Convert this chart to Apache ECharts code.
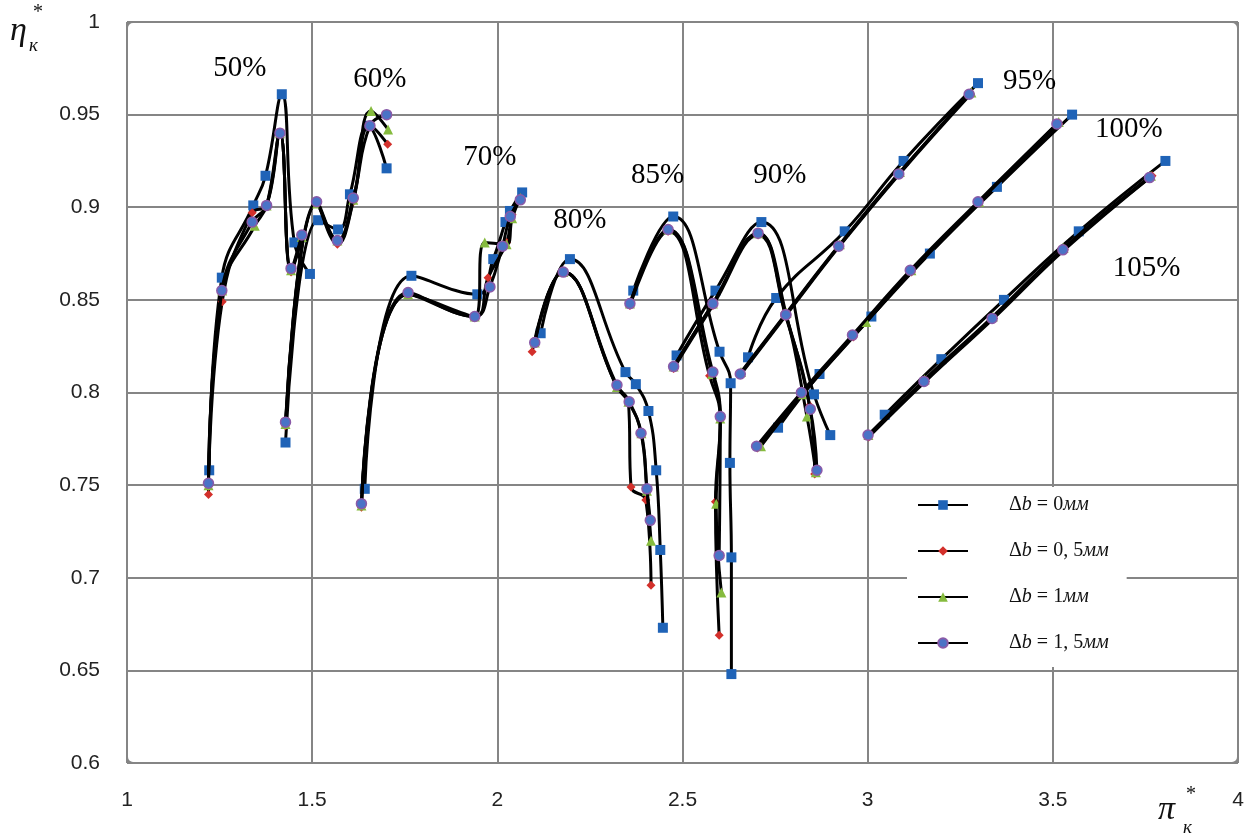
<!DOCTYPE html>
<html>
<head>
<meta charset="utf-8">
<script src="https://cdn.jsdelivr.net/npm/echarts@6/dist/echarts.min.js"></script>
<style>
html,body{margin:0;padding:0;background:#fff;}
#chart{width:1255px;height:836px;}
</style>
</head>
<body>
<div id="chart"></div>
<script>
// Speed lines (relative rotational speed)
const speedNames = ['50%','60%','70%','80%','85%','90%','95%','100%','105%'];
const speedLabelX = [1.305, 1.683, 1.980, 2.223, 2.433, 2.763, 3.437, 3.705, 3.753];
const speedLabelY = [0.975, 0.969, 0.927, 0.893, 0.917, 0.917, 0.968, 0.942, 0.867];

// Axis ticks
const xTicks = [1, 1.5, 2, 2.5, 3, 3.5, 4];
const yTicks = [0.6, 0.65, 0.7, 0.75, 0.8, 0.85, 0.9, 0.95, 1];

const seriesNames = ['Δb = 0мм', 'Δb = 0,5мм', 'Δb = 1мм', 'Δb = 1,5мм'];

// Δb = 0 mm  : [pi*, eta*] per speed line
const db0 = [
  [[1.222,0.758],[1.256,0.862],[1.341,0.901],[1.374,0.917],[1.418,0.961],[1.452,0.881],[1.494,0.864]],
  [[1.428,0.773],[1.516,0.893],[1.570,0.888],[1.602,0.907],[1.651,0.944],[1.701,0.921]],
  [[1.642,0.748],[1.768,0.863],[1.946,0.853],[1.989,0.872],[2.022,0.892],[2.034,0.898],[2.067,0.908]],
  [[2.117,0.832],[2.196,0.872],[2.346,0.811],[2.374,0.8045],[2.408,0.790],[2.429,0.758],[2.440,0.715],[2.447,0.673]],
  [[2.367,0.855],[2.475,0.895],[2.600,0.822],[2.630,0.805],[2.628,0.762],[2.632,0.711],[2.632,0.648]],
  [[2.484,0.820],[2.589,0.855],[2.713,0.892],[2.855,0.799],[2.899,0.777]],
  [[2.677,0.819],[2.753,0.851],[2.938,0.887],[3.097,0.925],[3.298,0.967]],
  [[2.758,0.781],[2.870,0.810],[3.010,0.841],[3.168,0.875],[3.349,0.911],[3.552,0.950]],
  [[3.046,0.788],[3.199,0.818],[3.368,0.850],[3.570,0.887],[3.804,0.925]]
];

// Δb = 0,5 mm
const db05 = [
  [[1.220,0.745],[1.257,0.849],[1.338,0.897],[1.377,0.901],[1.413,0.940],[1.443,0.865],[1.472,0.884]],
  [[1.428,0.782],[1.512,0.902],[1.568,0.880],[1.611,0.903],[1.656,0.944],[1.704,0.934]],
  [[1.633,0.738],[1.759,0.853],[1.939,0.841],[1.975,0.862],[2.025,0.881],[2.040,0.896],[2.062,0.905]],
  [[2.094,0.822],[2.178,0.865],[2.323,0.803],[2.354,0.795],[2.361,0.749],[2.401,0.742],[2.415,0.696]],
  [[2.358,0.847],[2.461,0.887],[2.573,0.809],[2.602,0.786],[2.589,0.741],[2.599,0.669]],
  [[2.476,0.813],[2.582,0.847],[2.704,0.885],[2.779,0.841],[2.843,0.793],[2.857,0.756]],
  [[2.658,0.810],[2.781,0.842],[2.924,0.879],[3.086,0.918],[3.278,0.961]],
  [[2.702,0.770],[2.823,0.799],[2.961,0.830],[3.118,0.865],[3.301,0.903],[3.516,0.945]],
  [[3.003,0.776],[3.156,0.806],[3.340,0.840],[3.531,0.877],[3.768,0.917]]
];

// Δb = 1 mm
const db1 = [
  [[1.220,0.750],[1.257,0.855],[1.345,0.890],[1.377,0.901],[1.413,0.940],[1.443,0.866],[1.472,0.884]],
  [[1.428,0.783],[1.512,0.902],[1.568,0.882],[1.611,0.904],[1.659,0.952],[1.705,0.942]],
  [[1.633,0.739],[1.759,0.853],[1.939,0.841],[1.966,0.881],[2.025,0.880],[2.040,0.894],[2.062,0.905]],
  [[2.101,0.827],[2.178,0.865],[2.323,0.803],[2.354,0.795],[2.389,0.778],[2.404,0.747],[2.415,0.720]],
  [[2.358,0.848],[2.461,0.888],[2.580,0.810],[2.602,0.786],[2.591,0.740],[2.605,0.692]],
  [[2.476,0.814],[2.582,0.848],[2.704,0.886],[2.779,0.843],[2.836,0.787],[2.860,0.757]],
  [[2.658,0.811],[2.781,0.843],[2.925,0.880],[3.087,0.919],[3.280,0.962]],
  [[2.712,0.771],[2.823,0.799],[2.996,0.838],[3.118,0.866],[3.301,0.903],[3.516,0.946]],
  [[3.002,0.777],[3.154,0.807],[3.338,0.841],[3.529,0.878],[3.765,0.917]]
];

// Δb = 1,5 mm
const db15 = [
  [[1.220,0.751],[1.256,0.855],[1.338,0.892],[1.377,0.901],[1.413,0.940],[1.443,0.867],[1.472,0.885]],
  [[1.428,0.784],[1.512,0.903],[1.568,0.882],[1.611,0.905],[1.656,0.944],[1.701,0.950]],
  [[1.633,0.740],[1.759,0.854],[1.939,0.841],[1.980,0.857],[2.014,0.879],[2.035,0.895],[2.062,0.904]],
  [[2.101,0.827],[2.178,0.865],[2.323,0.804],[2.356,0.795],[2.388,0.778],[2.404,0.748],[2.413,0.731]],
  [[2.358,0.848],[2.461,0.888],[2.582,0.811],[2.602,0.787],[2.599,0.712]],
  [[2.476,0.814],[2.582,0.848],[2.704,0.886],[2.779,0.842],[2.845,0.791],[2.863,0.758]],
  [[2.656,0.810],[2.779,0.842],[2.922,0.879],[3.084,0.918],[3.274,0.961]],
  [[2.700,0.771],[2.821,0.800],[2.959,0.831],[3.115,0.866],[3.298,0.903],[3.511,0.945]],
  [[3.001,0.777],[3.152,0.806],[3.336,0.840],[3.527,0.877],[3.761,0.916]]
];

const styles = [
  {data: db0,  symbol: 'rect',     size: 10, color: '#1f63b7', border: '#1f63b7', bw: 0},
  {data: db05, symbol: 'diamond',  size: 9,  color: '#d3302b', border: '#d3302b', bw: 0},
  {data: db1,  symbol: 'triangle', size: 10, color: '#86bb3e', border: '#86bb3e', bw: 0},
  {data: db15, symbol: 'circle',   size: 10, color: '#4a73c6', border: '#8a5aa8', bw: 1.5}
];

const series = [];
styles.forEach((st, si) => {
  st.data.forEach((line, li) => {
    series.push({
      name: seriesNames[si],
      type: 'line',
      data: line,
      smooth: 0.45,
      symbol: st.symbol,
      symbolSize: st.size,
      showSymbol: true,
      lineStyle: {color: '#000', width: 3},
      itemStyle: {color: st.color, borderColor: st.border, borderWidth: st.bw, opacity: 1},
      z: 2 + si,
      animation: false
    });
  });
});

// speed labels
series.push({
  type: 'scatter',
  name: 'speeds',
  data: speedNames.map((n, i) => ({name: n, value: [speedLabelX[i], speedLabelY[i]]})),
  symbol: 'circle',
  symbolSize: 1,
  itemStyle: {color: '#ffffff', opacity: 1},
  silent: true,
  z: 10,
  label: {
    show: true, position: 'inside',
    formatter: p => p.name,
    fontFamily: 'Liberation Serif', fontSize: 29, color: '#000', opacity: 1
  },
  animation: false
});

const legendRich = {
  'Δb = 0мм':   '{u|Δ}{i|b}{u| = 0}{i|мм}',
  'Δb = 0,5мм': '{u|Δ}{i|b}{u| = 0, 5}{i|мм}',
  'Δb = 1мм':   '{u|Δ}{i|b}{u| = 1}{i|мм}',
  'Δb = 1,5мм': '{u|Δ}{i|b}{u| = 1, 5}{i|мм}'
};

const chart = echarts.init(document.getElementById('chart'), null, {renderer: 'canvas'});
chart.setOption({
  animation: false,
  backgroundColor: '#fff',
  grid: {left: 127, top: 22, width: 1111, height: 741, show: false},
  xAxis: {
    type: 'value', min: xTicks[0], max: xTicks[xTicks.length - 1], interval: 0.5,
    axisLine: {show: false}, axisTick: {show: false},
    splitLine: {show: true, lineStyle: {color: '#858585', width: 2}},
    axisLabel: {margin: 27, fontFamily: 'Liberation Sans', fontSize: 21, color: '#222',
      formatter: v => String(v)}
  },
  yAxis: {
    type: 'value', min: yTicks[0], max: yTicks[yTicks.length - 1], interval: 0.05,
    axisLine: {show: false}, axisTick: {show: false},
    splitLine: {show: true, lineStyle: {color: '#858585', width: 2}},
    axisLabel: {margin: 27, fontFamily: 'Liberation Sans', fontSize: 21, color: '#222',
      formatter: v => String(+v.toFixed(2))}
  },
  legend: {
    data: seriesNames,
    orient: 'vertical',
    left: 907, top: 487,
    itemWidth: 50, itemHeight: 12, itemGap: 24,
    padding: [7, 18, 13, 10],
    backgroundColor: '#fff',
    selectedMode: false,
    formatter: name => legendRich[name],
    textStyle: {
      padding: [0, 0, 0, 36],
      lineHeight: 22,
      rich: {
        u: {fontFamily: 'Liberation Serif', fontSize: 20, color: '#111', lineHeight: 22},
        i: {fontFamily: 'Liberation Serif', fontStyle: 'italic', fontSize: 20, color: '#111', lineHeight: 22}
      }
    }
  },
  graphic: [
    {type: 'rect', shape: {x: 127, y: 22, width: 1111, height: 741, r: 6},
     style: {fill: 'none', stroke: '#858585', lineWidth: 2}, silent: true, z: 1},
    {type: 'text', left: 10, top: 14, style: {text: 'η', font: 'italic 34px "Liberation Serif"', fill: '#111'}},
    {type: 'text', left: 33, top: 3, style: {text: '*', font: '20px "Liberation Serif"', fill: '#111'}},
    {type: 'text', left: 29, top: 36, style: {text: 'к', font: 'italic 19px "Liberation Serif"', fill: '#111'}},
    {type: 'text', left: 1158, top: 793, style: {text: 'π', font: 'italic 34px "Liberation Serif"', fill: '#111'}},
    {type: 'text', left: 1186, top: 785, style: {text: '*', font: '20px "Liberation Serif"', fill: '#111'}},
    {type: 'text', left: 1183, top: 818, style: {text: 'к', font: 'italic 19px "Liberation Serif"', fill: '#111'}}
  ],
  series: series
});
</script>
</body>
</html>
